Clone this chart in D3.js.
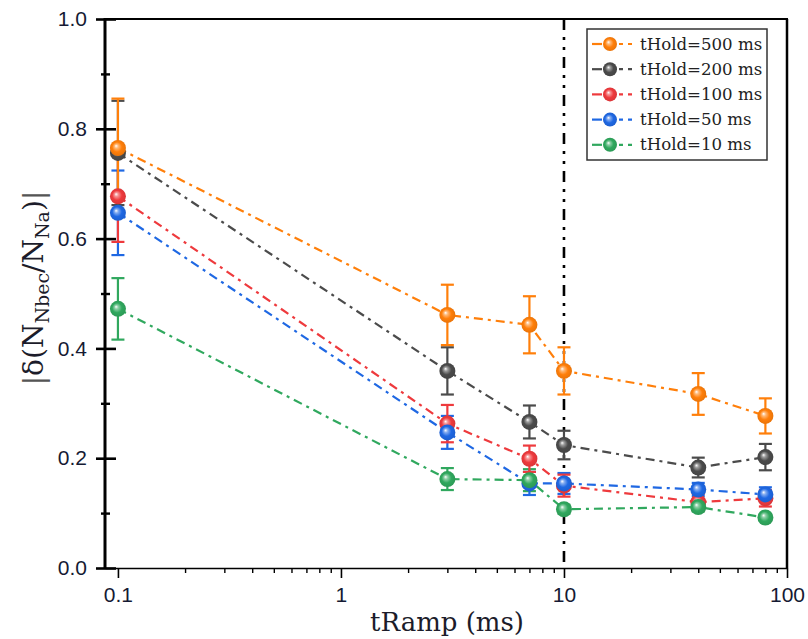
<!DOCTYPE html>
<html>
<head>
<meta charset="utf-8">
<script src="https://cdn.jsdelivr.net/npm/d3@7"></script>
<style>
  html, body { margin: 0; padding: 0; background: #fff; }
  svg { display: block; }
</style>
</head>
<body>
<svg id="chart" width="808" height="639"></svg>
<script>
// Ramp durations (ms)
const tRamp = [0.1, 3, 7, 10, 40, 80];

// |δ(N_Nbec/N_Na)| for each hold time, with error bars
const hold500 = [0.765, 0.461, 0.443, 0.359, 0.317, 0.277];
const err500  = [0.090, 0.055, 0.052, 0.043, 0.038, 0.032];
const hold200 = [0.756, 0.359, 0.266, 0.224, 0.183, 0.202];
const err200  = [0.095, 0.043, 0.030, 0.026, 0.018, 0.024];
const hold100 = [0.677, 0.263, 0.199, 0.150, 0.120, 0.127];
const err100  = [0.083, 0.034, 0.024, 0.020, 0.015, 0.015];
const hold50  = [0.647, 0.247, 0.154, 0.154, 0.143, 0.134];
const err50   = [0.077, 0.030, 0.021, 0.019, 0.012, 0.013];
const hold10  = [0.472, 0.162, 0.160, 0.107, 0.111, 0.092];
const err10   = [0.056, 0.020, 0.020, 0.008, 0.008, 0.006];

const seriesNames = ["tHold=500 ms", "tHold=200 ms", "tHold=100 ms", "tHold=50 ms", "tHold=10 ms"];
const seriesColors = ["#ff7f0a", "#4b4b4b", "#ee3a3d", "#1f68e3", "#30a85e"];

const xTickLabels = ["0.1", "1", "10", "100"];
const yTickLabels = ["0.0", "0.2", "0.4", "0.6", "0.8", "1.0"];

const series = [
  { name: seriesNames[0], color: seriesColors[0], y: hold500, e: err500 },
  { name: seriesNames[1], color: seriesColors[1], y: hold200, e: err200 },
  { name: seriesNames[2], color: seriesColors[2], y: hold100, e: err100 },
  { name: seriesNames[3], color: seriesColors[3], y: hold50,  e: err50 },
  { name: seriesNames[4], color: seriesColors[4], y: hold10,  e: err10 }
];

const svg = d3.select("#chart");
const plot = { left: 105, right: 787, top: 19, bottom: 568 };

const x = d3.scaleLog().domain([0.0875, 100]).range([plot.left, plot.right]);
const y = d3.scaleLinear().domain([0, 1]).range([plot.bottom, plot.top]);

const sansFont = "'Liberation Sans', Arial, sans-serif";
const serifFont = "'DejaVu Serif', serif";

// Ball-style marker gradients
const defs = svg.append("defs");
series.forEach((s, i) => {
  const g = defs.append("radialGradient")
    .attr("id", "ball" + i)
    .attr("cx", "50%").attr("cy", "50%").attr("r", "55%")
    .attr("fx", "38%").attr("fy", "36%");
  g.append("stop").attr("offset", "0%").attr("stop-color", "#ffffff");
  g.append("stop").attr("offset", "22%").attr("stop-color", d3.interpolateRgb("#ffffff", s.color)(0.55));
  g.append("stop").attr("offset", "55%").attr("stop-color", s.color);
  g.append("stop").attr("offset", "100%").attr("stop-color", d3.color(s.color).darker(0.3));
});

// ---- Axes ----
// x axis: major ticks at decades, minor ticks in between
const xMajor = [0.1, 1, 10, 100];
const xMinor = [];
[0.1, 1, 10].forEach(d => { for (let k = 2; k <= 9; k++) xMinor.push(d * k); });

const xAxis = d3.axisBottom(x).tickValues(xMajor)
  .tickFormat((d, i) => xTickLabels[i]).tickSizeInner(10).tickSizeOuter(0).tickPadding(9);
const gx = svg.append("g").attr("transform", `translate(0,${plot.bottom})`).call(xAxis);
gx.select(".domain").attr("stroke", "#000").attr("stroke-width", 1.6);
gx.selectAll(".tick line").attr("stroke", "#000").attr("stroke-width", 1.6);
gx.selectAll(".tick text").attr("font-family", sansFont).attr("font-size", 21).attr("fill", "#151a33");

const gxm = svg.append("g").attr("transform", `translate(0,${plot.bottom})`)
  .call(d3.axisBottom(x).tickValues(xMinor).tickFormat("").tickSizeInner(5).tickSizeOuter(0));
gxm.select(".domain").remove();
gxm.selectAll(".tick line").attr("stroke", "#000").attr("stroke-width", 1.4);

// y axis: major ticks cross the spine, minor ticks halfway
const yMajor = [0, 0.2, 0.4, 0.6, 0.8, 1.0];
const yMinor = [0.1, 0.3, 0.5, 0.7, 0.9];
const gy = svg.append("g").attr("transform", `translate(${plot.left},0)`)
  .call(d3.axisLeft(y).tickValues(yMajor).tickFormat((d, i) => yTickLabels[i])
    .tickSizeInner(9).tickSizeOuter(0).tickPadding(9));
gy.select(".domain").remove();
gy.selectAll(".tick line").attr("stroke", "#000").attr("stroke-width", 2.6).attr("x2", -9).attr("x1", 11);
gy.selectAll(".tick text").attr("font-family", sansFont).attr("font-size", 21).attr("fill", "#151a33");

const gym = svg.append("g").attr("transform", `translate(${plot.left},0)`)
  .call(d3.axisLeft(y).tickValues(yMinor).tickFormat("").tickSizeInner(4).tickSizeOuter(0));
gym.select(".domain").remove();
gym.selectAll(".tick line").attr("stroke", "#000").attr("stroke-width", 2.4).attr("x2", -4).attr("x1", 5);

// frame
svg.append("line").attr("x1", plot.left).attr("x2", plot.left).attr("y1", plot.top - 1).attr("y2", plot.bottom + 1)
  .attr("stroke", "#000").attr("stroke-width", 3);
svg.append("line").attr("x1", plot.left).attr("x2", plot.right + 1).attr("y1", plot.top).attr("y2", plot.top)
  .attr("stroke", "#000").attr("stroke-width", 2);
svg.append("line").attr("x1", plot.right).attr("x2", plot.right).attr("y1", plot.top).attr("y2", plot.bottom)
  .attr("stroke", "#000").attr("stroke-width", 2.5);

// vertical reference line at tRamp = 10 ms
svg.append("line")
  .attr("x1", x(10)).attr("x2", x(10))
  .attr("y1", plot.top).attr("y2", plot.bottom)
  .attr("stroke", "#000").attr("stroke-width", 2.6)
  .attr("stroke-dasharray", "11 7 3 7 3 7");

// ---- Data ----
const line = d3.line().x(d => x(d[0])).y(d => y(d[1]));
const lineDash = "9 5 3 5";

const drawOrder = [0, 1, 2, 3, 4].reverse();

// connecting lines
drawOrder.forEach(i => {
  const s = series[i];
  svg.append("path")
    .datum(tRamp.map((t, j) => [t, s.y[j]]))
    .attr("d", line)
    .attr("fill", "none")
    .attr("stroke", s.color)
    .attr("stroke-width", 2.2)
    .attr("stroke-dasharray", lineDash);
});

// error bars
const cap = 6.5;
drawOrder.forEach(i => {
  const s = series[i];
  const g = svg.append("g").attr("stroke", s.color).attr("stroke-width", 2.2);
  tRamp.forEach((t, j) => {
    const cx = x(t), y0 = y(s.y[j] - s.e[j]), y1 = y(s.y[j] + s.e[j]);
    g.append("line").attr("x1", cx).attr("x2", cx).attr("y1", y0).attr("y2", y1);
    g.append("line").attr("x1", cx - cap).attr("x2", cx + cap).attr("y1", y0).attr("y2", y0);
    g.append("line").attr("x1", cx - cap).attr("x2", cx + cap).attr("y1", y1).attr("y2", y1);
  });
});

// markers
[1, 2, 3, 4, 0].forEach(i => {
  const s = series[i];
  svg.append("g").selectAll("circle")
    .data(tRamp.map((t, j) => [t, s.y[j]]))
    .join("circle")
    .attr("cx", d => x(d[0])).attr("cy", d => y(d[1]))
    .attr("r", 8)
    .attr("fill", `url(#ball${i})`);
});

// ---- Legend ----
const legend = svg.append("g");
legend.append("rect")
  .attr("x", 587).attr("y", 29).attr("width", 180).attr("height", 131)
  .attr("fill", "#fff").attr("stroke", "#333").attr("stroke-width", 1.5);
series.forEach((s, i) => {
  const ly = 44 + i * 25.2;
  legend.append("line").attr("x1", 592).attr("x2", 602).attr("y1", ly).attr("y2", ly)
    .attr("stroke", s.color).attr("stroke-width", 2.2);
  legend.append("line").attr("x1", 619).attr("x2", 636).attr("y1", ly).attr("y2", ly)
    .attr("stroke", s.color).attr("stroke-width", 2.2).attr("stroke-dasharray", "4 5");
  legend.append("circle").attr("cx", 610).attr("cy", ly).attr("r", 7)
    .attr("fill", `url(#ball${i})`);
  legend.append("text").attr("x", 640).attr("y", ly + 5.5)
    .attr("font-family", serifFont).attr("font-size", 16.6).attr("fill", "#222")
    .text(s.name);
});

// ---- Axis titles ----
svg.append("text")
  .attr("x", (plot.left + plot.right) / 2 + 1).attr("y", 631)
  .attr("text-anchor", "middle")
  .attr("font-family", serifFont).attr("font-size", 26).attr("fill", "#1c1c2a")
  .text("tRamp (ms)");

const yt = svg.append("text")
  .attr("transform", "translate(43,288) rotate(-90)")
  .attr("text-anchor", "middle")
  .attr("font-family", serifFont).attr("font-size", 28).attr("fill", "#1c1c2a");
yt.append("tspan").attr("fill", "#555").text("|");
yt.append("tspan").text("δ(N");
yt.append("tspan").attr("font-size", 19).attr("dy", 6).text("Nbec");
yt.append("tspan").attr("dy", -6).text("/N");
yt.append("tspan").attr("font-size", 19).attr("dy", 6).text("Na");
yt.append("tspan").attr("dy", -6).text(")");
yt.append("tspan").attr("fill", "#555").text("|");
</script>
</body>
</html>
